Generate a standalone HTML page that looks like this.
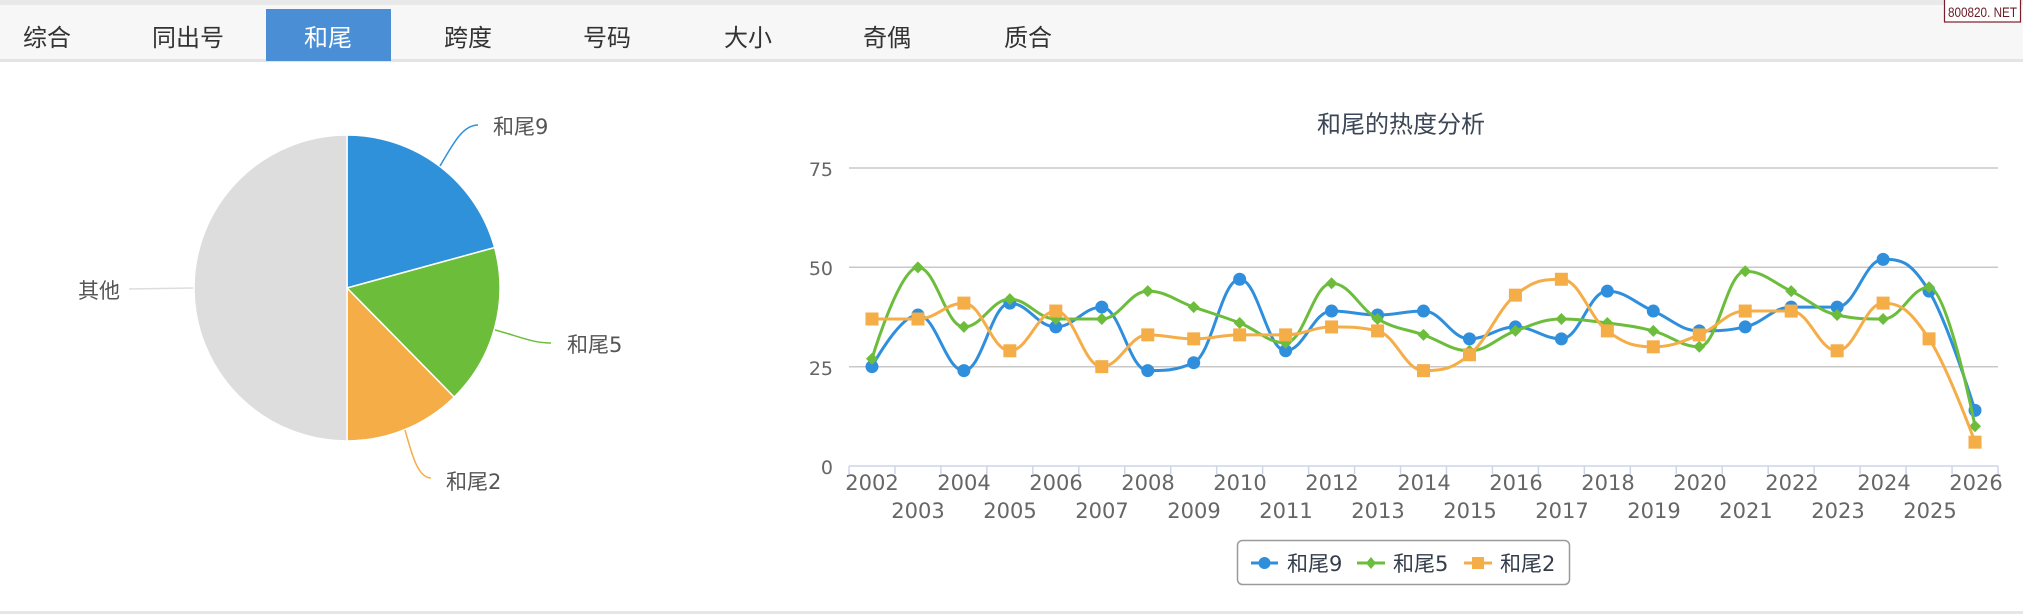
<!DOCTYPE html>
<html><head><meta charset="utf-8"><style>
html,body{margin:0;padding:0;background:#fff;width:2023px;height:614px;overflow:hidden}
svg{display:block}
.cjk{font-family:"Noto Sans CJK SC","WenQuanYi Zen Hei",sans-serif}
.lab{font-family:"DejaVu Sans","Noto Sans CJK SC",sans-serif}
.num{font-family:"DejaVu Sans",sans-serif}
</style></head><body>
<svg id="s" width="2023" height="614" viewBox="0 0 2023 614" xmlns="http://www.w3.org/2000/svg">
<!-- tab bar -->
<rect x="0" y="0" width="2023" height="5" fill="#e9e9e9"/>
<rect x="0" y="5" width="2023" height="54" fill="#f7f7f7"/>
<rect x="0" y="59" width="2023" height="3" fill="#e4e4e4"/>
<rect x="266" y="9" width="125" height="52" fill="#4a8fd6"/>
<g class="cjk" font-size="24" fill="#333" text-anchor="middle">
<text x="47" y="46">综合</text>
<text x="188" y="46">同出号</text>
<text x="328" y="46" fill="#fff">和尾</text>
<text x="468" y="46">跨度</text>
<text x="607" y="46">号码</text>
<text x="748" y="46">大小</text>
<text x="887" y="46">奇偶</text>
<text x="1028" y="46">质合</text>
</g>
<!-- watermark -->
<rect x="1944.5" y="-1" width="76" height="23" fill="#fff" stroke="#7a1f2a" stroke-width="1.2"/>
<text x="1982.5" y="17" text-anchor="middle" font-family="Liberation Sans, sans-serif" font-size="14" fill="#6b1a24" textLength="69" lengthAdjust="spacingAndGlyphs">800820. NET</text>

<!-- pie -->
<g stroke="#fff" stroke-width="1.5" stroke-linejoin="round">
<path d="M347 288 L347 135 A153 153 0 0 1 494.6 247.6 Z" fill="#2f91d9"/>
<path d="M347 288 L494.6 247.6 A153 153 0 0 1 454.2 397.1 Z" fill="#6cbe3a"/>
<path d="M347 288 L454.2 397.1 A153 153 0 0 1 347 441 Z" fill="#f5ad48"/>
<path d="M347 288 L347 441 A153 153 0 0 1 347 135 Z" fill="#dddddd"/>
</g>
<g fill="none" stroke-width="1.5">
<path d="M440 166 C452 146, 462 125, 478 125" stroke="#2f91d9"/>
<path d="M495 330 C518 336, 532 343, 551 343" stroke="#6cbe3a"/>
<path d="M405 430 C412 455, 418 478, 431 478" stroke="#f5ad48"/>
<path d="M193 288 L129 289" stroke="#dddddd"/>
</g>
<g class="lab" font-size="21" fill="#555">
<text x="493" y="134">和尾9</text>
<text x="567" y="352">和尾5</text>
<text x="446" y="489">和尾2</text>
<text x="120" y="298" text-anchor="end">其他</text>
</g>

<!-- line chart -->
<text x="1401" y="132.5" text-anchor="middle" class="cjk" font-size="24" fill="#3b4656">和尾的热度分析</text>
<g stroke="#c8c8c8" stroke-width="1.5">
<line x1="849" y1="168" x2="1998" y2="168"/>
<line x1="849" y1="267.3" x2="1998" y2="267.3"/>
<line x1="849" y1="366.7" x2="1998" y2="366.7"/>
</g>
<line x1="849" y1="466" x2="1998" y2="466" stroke="#ccd6eb" stroke-width="1.5"/>
<g id="ticks" stroke="#ccd6eb" stroke-width="1.5"></g>
<g class="num" font-size="19" fill="#666" text-anchor="end">
<text x="833" y="176">75</text>
<text x="833" y="275">50</text>
<text x="833" y="375">25</text>
<text x="833" y="474">0</text>
</g>
<g class="num" font-size="21" fill="#666" text-anchor="middle">
<text x="872" y="490">2002</text>
<text x="918" y="518">2003</text>
<text x="964" y="490">2004</text>
<text x="1010" y="518">2005</text>
<text x="1056" y="490">2006</text>
<text x="1102" y="518">2007</text>
<text x="1148" y="490">2008</text>
<text x="1194" y="518">2009</text>
<text x="1240" y="490">2010</text>
<text x="1286" y="518">2011</text>
<text x="1332" y="490">2012</text>
<text x="1378" y="518">2013</text>
<text x="1424" y="490">2014</text>
<text x="1470" y="518">2015</text>
<text x="1516" y="490">2016</text>
<text x="1562" y="518">2017</text>
<text x="1608" y="490">2018</text>
<text x="1654" y="518">2019</text>
<text x="1700" y="490">2020</text>
<text x="1746" y="518">2021</text>
<text x="1792" y="490">2022</text>
<text x="1838" y="518">2023</text>
<text x="1884" y="490">2024</text>
<text x="1930" y="518">2025</text>
<text x="1976" y="490">2026</text>
</g>
<g id="series"></g>

<!-- legend -->
<rect x="1237.5" y="540.5" width="332" height="44" rx="5" ry="5" fill="#fff" stroke="#9a9a9a" stroke-width="1.5"/>
<line x1="1251" y1="563" x2="1278" y2="563" stroke="#2f8fdc" stroke-width="3"/>
<circle cx="1264.5" cy="563" r="6" fill="#2f8fdc"/>
<line x1="1357" y1="563" x2="1385" y2="563" stroke="#6cbd3c" stroke-width="3"/>
<path d="M1371 557 L1376 563 L1371 569 L1366 563 Z" fill="#6cbd3c"/>
<line x1="1464" y1="563" x2="1492" y2="563" stroke="#f5ad48" stroke-width="3"/>
<rect x="1472" y="557" width="12" height="12" fill="#f5ad48"/>
<g class="lab" font-size="21" fill="#333d4a">
<text x="1287" y="571">和尾9</text>
<text x="1393" y="571">和尾5</text>
<text x="1500" y="571">和尾2</text>
</g>

<rect x="0" y="611" width="2023" height="3" fill="#e6e6e6"/>
</svg>
<script>
(function(){
var NS="http://www.w3.org/2000/svg";
var X0=849,STEP=45.96;
function px(i){return X0+STEP*(i+0.5);}
function py(v){return 466-v*3.9733;}
var tg=document.getElementById('ticks');
for(var k=0;k<=25;k++){var l=document.createElementNS(NS,'line');var x=X0+STEP*k;l.setAttribute('x1',x);l.setAttribute('x2',x);l.setAttribute('y1',466);l.setAttribute('y2',474);tg.appendChild(l);}
var data=[
 {c:"#2f8fdc",m:"circle",d:[25,38,24,41,35,40,24,26,47,29,39,38,39,32,35,32,44,39,34,35,40,40,52,44,14]},
 {c:"#6cbd3c",m:"diamond",d:[27,50,35,42,37,37,44,40,36,31,46,37,33,29,34,37,36,34,30,49,44,38,37,45,10]},
 {c:"#f5ad48",m:"square",d:[37,37,41,29,39,25,33,32,33,33,35,34,24,28,43,47,34,30,33,39,39,29,41,32,6]}
];
var sg=document.getElementById('series');
data.forEach(function(s){
  var pts=s.d.map(function(v,i){return {x:px(i),y:py(v)};});
  var sm=1.5,den=sm+1,path="M"+pts[0].x.toFixed(2)+" "+pts[0].y.toFixed(2);
  for(var i=1;i<pts.length;i++){
    var p=pts[i],lp=pts[i-1],lcx,lcy,rcx,rcy;
    if(i<pts.length-1){
      var np=pts[i+1];
      lcx=(sm*p.x+lp.x)/den;lcy=(sm*p.y+lp.y)/den;
      rcx=(sm*p.x+np.x)/den;rcy=(sm*p.y+np.y)/den;
      var corr=0;
      if(rcx!==lcx){corr=((rcy-lcy)*(rcx-p.x))/(rcx-lcx)+p.y-rcy;}
      lcy+=corr;rcy+=corr;
      if(lcy>lp.y&&lcy>p.y){lcy=Math.max(lp.y,p.y);rcy=2*p.y-lcy;}
      else if(lcy<lp.y&&lcy<p.y){lcy=Math.min(lp.y,p.y);rcy=2*p.y-lcy;}
      if(rcy>np.y&&rcy>p.y){rcy=Math.max(np.y,p.y);lcy=2*p.y-rcy;}
      else if(rcy<np.y&&rcy<p.y){rcy=Math.min(np.y,p.y);lcy=2*p.y-rcy;}
      p.rcx=rcx;p.rcy=rcy;
    } else {lcx=p.x;lcy=p.y;}
    var c1x=lp.rcx!==undefined?lp.rcx:lp.x,c1y=lp.rcy!==undefined?lp.rcy:lp.y;
    path+=" C"+c1x.toFixed(2)+" "+c1y.toFixed(2)+" "+lcx.toFixed(2)+" "+lcy.toFixed(2)+" "+p.x.toFixed(2)+" "+p.y.toFixed(2);
  }
  var g=document.createElementNS(NS,'g');
  var pe=document.createElementNS(NS,'path');
  pe.setAttribute('d',path);pe.setAttribute('fill','none');pe.setAttribute('stroke',s.c);
  pe.setAttribute('stroke-width','3');pe.setAttribute('stroke-linejoin','round');pe.setAttribute('stroke-linecap','round');
  g.appendChild(pe);
  pts.forEach(function(p){
    var e;
    if(s.m==="circle"){e=document.createElementNS(NS,'circle');e.setAttribute('cx',p.x);e.setAttribute('cy',p.y);e.setAttribute('r',6.5);}
    else if(s.m==="square"){e=document.createElementNS(NS,'rect');e.setAttribute('x',p.x-6.5);e.setAttribute('y',p.y-6.5);e.setAttribute('width',13);e.setAttribute('height',13);}
    else {e=document.createElementNS(NS,'path');var r=6;e.setAttribute('d',"M"+p.x+" "+(p.y-r)+" L"+(p.x+r)+" "+p.y+" L"+p.x+" "+(p.y+r)+" L"+(p.x-r)+" "+p.y+" Z");}
    e.setAttribute('fill',s.c);
    g.appendChild(e);
  });
  sg.appendChild(g);
});
})();
</script>
</body></html>
